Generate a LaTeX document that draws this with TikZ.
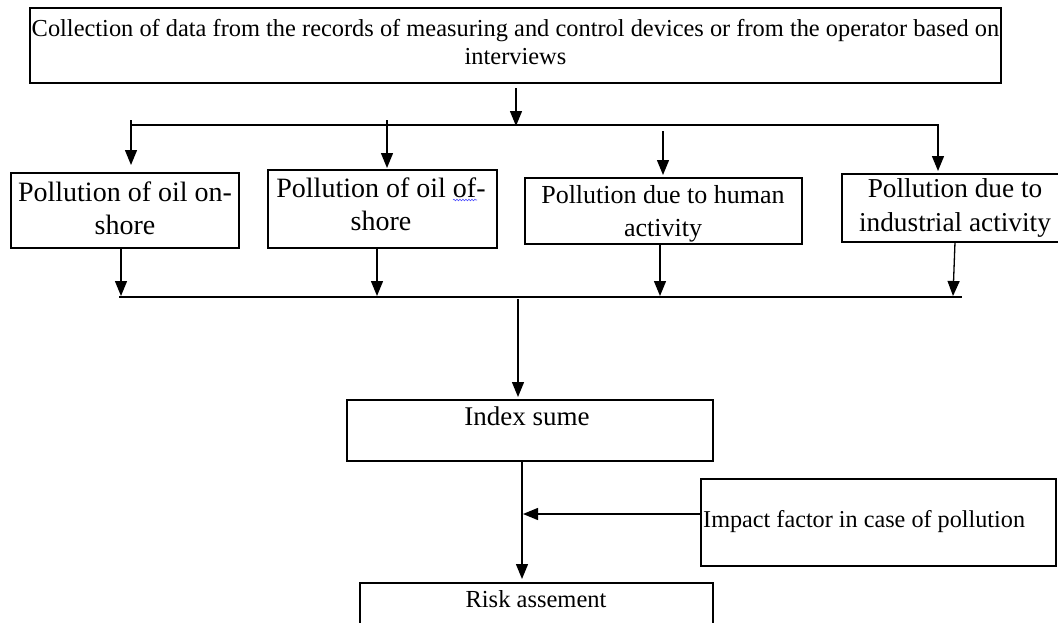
\documentclass[tikz,border=0pt]{standalone}
\usepackage{fontspec}
\setmainfont{Liberation Serif}
\usetikzlibrary{arrows.meta,decorations.pathmorphing}
\begin{document}
\begin{tikzpicture}[x=1pt,y=-1pt,
  box/.style={draw, line width=1.3pt, rectangle, inner sep=0pt},
  txt/.style={inner sep=0pt, align=center},
  arr/.style={-{Triangle[width=12pt,length=15pt]}, line width=1.3pt},
  ln/.style={line width=1.3pt}]
\useasboundingbox (0,0) rectangle (1058,622);
\clip (0,0) rectangle (1058,622);
% boxes
\node[box, minimum width=971pt, minimum height=75pt] (top) at (515.5,45.5) {};
\node[box, minimum width=228pt, minimum height=75pt] (b1) at (125,210.5) {};
\node[box, minimum width=229pt, minimum height=78pt] (b2) at (382.5,209) {};
\node[box, minimum width=277pt, minimum height=66pt] (b3) at (663.5,211) {};
\node[box, minimum width=224pt, minimum height=68pt] (b4) at (954,208) {};
\node[box, minimum width=366pt, minimum height=61pt] (idx) at (530,430.5) {};
\node[box, minimum width=355pt, minimum height=87pt] (imp) at (878.5,522.5) {};
\node[box, minimum width=353pt, minimum height=80pt] (risk) at (536.5,623) {};
% texts
\node[txt, font=\fontsize{24.4}{28}\selectfont] (ttop) at (515.5,42) {Collection of data from the records of measuring and control devices or from the operator based on\\interviews};
\node[txt, font=\fontsize{28}{33}\selectfont] (t1) at (125,208) {Pollution of oil on-\\shore};
\node[txt, font=\fontsize{28}{33}\selectfont] (t2) at (381,204) {Pollution of oil of-\\shore};
\node[txt, font=\fontsize{26}{33}\selectfont] (t3) at (663,214) {Pollution due to human\\activity};
\node[txt, font=\fontsize{27.3}{34}\selectfont] (t4) at (955,208) {Pollution due to\\industrial activity};
\node[txt, font=\fontsize{27}{30}\selectfont] (tidx) at (527,416) {Index sume};
\node[txt, font=\fontsize{24.2}{28}\selectfont, anchor=west] (timp) at (703,522) {Impact factor in case of pollution};
\node[txt, font=\fontsize{24.5}{28}\selectfont] (trisk) at (536,599) {Risk assement};
% spell-check squiggle
\draw[blue!70!white, line width=0.6pt, decorate, decoration={snake, amplitude=0.8pt, segment length=3pt}] (453,200) -- (477,200);
% bus lines
\coordinate (bt1) at (131,125);
\coordinate (bt2) at (939,125);
\coordinate (bb1) at (119,297);
\coordinate (bb2) at (962,297);
\draw[ln] (bt1) -- (bt2);
\draw[ln] (bb1) -- (bb2);
% arrow from top box to upper bus
\coordinate (a0s) at (516,88);
\coordinate (a0e) at (516,126);
\draw[arr] (a0s) -- (a0e);
% arrows from upper bus to the four boxes
\draw[arr] (131,120) -- (131,165);
\draw[arr] (387,120) -- (387,168);
\draw[arr] (663,131) -- (663,175);
\draw[arr] (938,126) -- (938,171);
% arrows to bottom bus
\draw[arr] (121,248) -- (121,296);
\draw[arr] (377,248) -- (377,296);
\draw[arr] (660,244) -- (660,296);
\draw[arr] (955,242) -- (953,296);
% to index
\draw[arr] (518,299) -- (518,397);
% index to risk
\draw[arr] (522,461) -- (522,579);
\draw[arr] (imp.west |- 0,514) -- (523,514);
\end{tikzpicture}
\end{document}
